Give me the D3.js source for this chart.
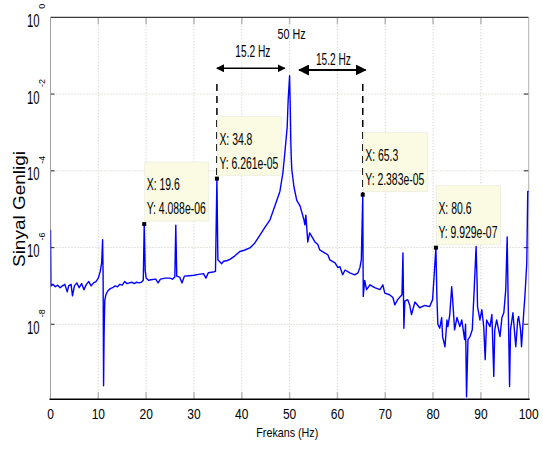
<!DOCTYPE html>
<html>
<head>
<meta charset="utf-8">
<title>Sinyal Genligi - Frekans</title>
<script src="https://d3js.org/d3.v7.min.js"></script>
<style>
body{margin:0;background:#fff;}
text{font-family:"Liberation Sans",Arial,sans-serif;fill:#000;}
</style>
</head>
<body>
<script>
// eksen etiketleri
var xTicks = [0,10,20,30,40,50,60,70,80,90,100];
var yTicks = [1,1e-2,1e-4,1e-6,1e-8];

// spektrum (okunan degerler)
var freq = [
  0,0.1,0.5,1.0,1.5,2.0,2.5,3.0,3.5,3.8,
  4.3,4.6,5.0,5.5,6.0,6.5,7.0,7.5,8.0,8.5,
  9.0,9.5,10.0,10.4,10.7,10.9,11.0,11.1,11.2,11.35,
  11.6,12.0,12.5,13.0,13.5,14.0,14.5,15.0,15.5,16.0,
  16.5,17.0,17.5,18.0,18.5,19.0,19.4,19.6,19.8,20.0,
  20.5,21.0,22.0,22.5,23.0,24.0,25.0,25.5,26.0,26.2,
  26.4,27.0,27.5,28.0,29.0,30.0,31.0,32.0,32.5,33.0,
  34.0,34.5,34.8,35.0,35.3,35.8,36.2,37.0,37.6,38.5,
  39.6,40.5,41.7,42.7,43.8,44.8,45.9,46.9,47.97,48.6,
  49.0,49.5,49.7,50.0,50.15,50.26,50.37,50.47,50.9,51.5,
  52.2,53.0,53.2,53.4,53.8,54.2,55.3,55.9,56.3,57.4,
  58.0,58.4,59.5,60.1,60.5,61.1,61.6,62.6,63.6,64.3,
  64.7,65.0,65.3,65.4,65.7,66.1,66.8,67.8,68.9,69.5,
  69.9,70.9,71.6,72.0,72.6,73.5,73.7,73.9,74.1,74.7,
  75.1,75.5,76.2,77.2,78.3,79.3,79.9,80.3,80.6,80.8,
  81.0,81.4,81.8,82.0,82.5,82.9,83.1,83.5,83.9,84.1,
  84.5,85.0,85.6,86.0,86.6,86.8,87.0,87.3,87.7,88.2,
  88.6,89.0,89.2,89.3,89.8,90.2,90.6,90.9,91.2,91.9,
  92.3,92.7,92.9,93.3,94.0,94.4,94.8,95.2,95.5,95.7,
  96.0,96.2,96.7,97.3,97.7,97.9,98.3,98.5,99.0,99.2,
  99.6,99.8,100
];
var amp = [
  2.9e-6,1.0e-7,1.1e-7,9.5e-8,1.05e-7,9.0e-8,1.0e-7,1.1e-7,7.0e-8,1.0e-7,
  1.1e-7,5.5e-8,1.0e-7,1.2e-7,9.0e-8,1.15e-7,8.0e-8,1.1e-7,1.3e-7,1.0e-7,
  1.2e-7,1.3e-7,1.6e-7,2.4e-7,4.0e-7,1.6e-6,2.0e-7,2.5e-10,5.0e-9,4.2e-8,
  6.0e-8,7.5e-8,8.5e-8,9.0e-8,1.0e-7,9.5e-8,1.1e-7,1.05e-7,1.3e-7,1.15e-7,
  1.2e-7,1.25e-7,1.15e-7,1.25e-7,1.2e-7,1.25e-7,1.4e-7,4.088e-6,2.5e-7,1.6e-7,
  1.4e-7,1.45e-7,1.5e-7,1.2e-7,1.5e-7,1.6e-7,1.6e-7,1.5e-7,1.7e-7,3.8e-6,
  1.8e-7,1.7e-7,1.2e-7,1.8e-7,1.85e-7,1.9e-7,2.0e-7,2.1e-7,1.6e-7,2.2e-7,
  2.3e-7,2.4e-7,6.261e-5,4.8e-7,4.4e-7,3.8e-7,4.4e-7,4.6e-7,5.0e-7,6.0e-7,
  7.9e-7,8.5e-7,9.8e-7,1.3e-6,2.1e-6,3.3e-6,5.3e-6,1.2e-5,2.9e-5,8.9e-5,
  2.9e-4,1.4e-3,7.0e-3,3.0e-2,3.9e-3,5.3e-4,1.9e-4,1.05e-4,3.9e-5,1.7e-5,
  1.2e-5,5.3e-6,3.9e-6,7.0e-6,1.4e-6,2.4e-6,1.4e-6,1.2e-6,8.7e-7,7.2e-7,
  6.5e-7,4.8e-7,4.0e-7,3.0e-7,3.2e-7,1.95e-7,2.6e-7,2.2e-7,1.95e-7,2.2e-7,
  3.0e-7,4.8e-7,2.383e-5,5.3e-8,1.4e-7,8.0e-8,1.07e-7,9.0e-8,8.0e-8,1.07e-7,
  6.5e-8,5.9e-8,5.0e-8,3.2e-8,4.4e-8,5.9e-8,7.2e-7,7.9e-9,4.0e-8,4.4e-8,
  3.2e-8,1.8e-8,3.8e-8,2.7e-8,3.1e-8,2.9e-8,4.4e-8,2.6e-7,9.929e-7,5.2e-8,
  1.0e-8,7.9e-9,1.5e-8,4.7e-9,2.6e-9,1.3e-8,8.7e-9,1.8e-8,9.5e-8,4.4e-8,
  7.2e-9,1.5e-8,8.7e-9,1.3e-8,4.0e-9,1.0e-8,1.3e-10,4.0e-9,4.7e-9,7.2e-9,
  8.0e-8,1.07e-6,1.4e-7,2.9e-8,1.3e-8,2.4e-8,8.7e-9,1.2e-9,1.3e-8,8.7e-9,
  1.8e-8,4.4e-10,7.2e-9,1.3e-8,4.8e-9,1.5e-8,2.0e-8,8.0e-8,1.9e-6,4.4e-8,
  2.4e-10,7.2e-9,2.0e-8,2.6e-9,1.3e-8,1.6e-8,7.2e-9,2.6e-9,2.4e-8,5.2e-8,
  4.0e-7,2.9e-5,2.9e-5
];

// veri imleci (data tip) noktalari
var tipX = [19.6,34.8,65.3,80.6];
var tipY = [4.088e-6,6.261e-5,2.383e-5,9.929e-7];
var tipTextY = ["4.088e-06","6.261e-05","2.383e-05","9.929e-07"];

// 15.2 Hz oklari
var arrowFrom = [34.8,52.0];
var arrowTo = [49.0,65.9];
var arrowLabel = ["15.2 Hz","15.2 Hz"];
var peakLabel = "50 Hz";

var w = 543, h = 459;
var pLeft = 50.5, pRight = 528.7, pTop = 17.3, pBottom = 399.3;

var svg = d3.select("body").append("svg")
    .attr("width", w)
    .attr("height", h);

var x = d3.scaleLinear().domain([0,100]).range([pLeft,pRight]);
var y = d3.scaleLog().domain([Math.pow(10,-9.954),1]).range([pBottom,pTop]);

// izgara
svg.append("g").selectAll("line")
    .data(xTicks.slice(1,-1))
    .join("line")
    .attr("x1",d=>x(d)).attr("x2",d=>x(d))
    .attr("y1",pTop).attr("y2",pBottom)
    .attr("stroke","#c8c8bc")
    .attr("stroke-dasharray","1,2");
svg.append("g").selectAll("line")
    .data(yTicks.slice(1))
    .join("line")
    .attr("x1",pLeft).attr("x2",pRight)
    .attr("y1",d=>y(d)).attr("y2",d=>y(d))
    .attr("stroke","#c8c8bc")
    .attr("stroke-dasharray","1,2");

// kucuk tikler
svg.append("g").selectAll("line")
    .data(xTicks.slice(1,-1))
    .join("line")
    .attr("x1",d=>x(d)).attr("x2",d=>x(d))
    .attr("y1",pBottom-7).attr("y2",pBottom)
    .attr("stroke","#b8b8b8").attr("stroke-width",1.5);
svg.append("g").selectAll("line")
    .data(xTicks.slice(1,-1))
    .join("line")
    .attr("x1",d=>x(d)).attr("x2",d=>x(d))
    .attr("y1",pTop).attr("y2",pTop+7)
    .attr("stroke","#b8b8b8").attr("stroke-width",1.5);
svg.append("g").selectAll("line")
    .data(yTicks.slice(1))
    .join("line")
    .attr("x1",pLeft).attr("x2",pLeft+4)
    .attr("y1",d=>y(d)).attr("y2",d=>y(d))
    .attr("stroke","#444").attr("stroke-width",1.2);
svg.append("g").selectAll("line")
    .data(yTicks.slice(1))
    .join("line")
    .attr("x1",pRight-5).attr("x2",pRight)
    .attr("y1",d=>y(d)).attr("y2",d=>y(d))
    .attr("stroke","#444").attr("stroke-width",1.2);

// cerceve
svg.append("line").attr("x1",pLeft).attr("x2",pRight).attr("y1",pTop).attr("y2",pTop)
    .attr("stroke","#3a3a3a").attr("stroke-width",1.3);
svg.append("line").attr("x1",pLeft).attr("x2",pLeft).attr("y1",pTop).attr("y2",pBottom)
    .attr("stroke","#a0a0a0").attr("stroke-width",1);
svg.append("line").attr("x1",pRight).attr("x2",pRight).attr("y1",pTop).attr("y2",pBottom)
    .attr("stroke","#b0b0b0").attr("stroke-width",1);

// spektrum cizgisi
svg.append("clipPath").attr("id","clip")
    .append("rect").attr("x",pLeft).attr("y",pTop).attr("width",pRight-pLeft+1).attr("height",pBottom-pTop);

var pts = freq.map((f,i)=>[f,amp[i]]);
var line = d3.line().x(d=>x(d[0])).y(d=>y(d[1]));
svg.append("path")
    .datum(pts)
    .attr("clip-path","url(#clip)")
    .attr("fill","none")
    .attr("stroke","#0000ff")
    .attr("stroke-width",1.4)
    .attr("stroke-linejoin","round")
    .attr("d",line);

svg.append("line").attr("x1",pLeft-1).attr("x2",pRight+1).attr("y1",pBottom).attr("y2",pBottom)
    .attr("stroke","#000").attr("stroke-width",1.6);

// x ekseni yazilari
svg.append("g").selectAll("text")
    .data(xTicks)
    .join("text")
    .attr("transform",d=>"translate("+x(d)+",419) scale(0.8,1)")
    .attr("text-anchor","middle")
    .attr("font-size",15)
    .text(d=>d);

// y ekseni yazilari (10 ussu)
var yl = svg.append("g").selectAll("g")
    .data(yTicks)
    .join("g");
yl.append("text")
    .attr("transform",d=>"translate(39.5,"+(y(d)+9.5)+") scale(0.63,1)")
    .attr("text-anchor","end")
    .attr("font-size",18)
    .text("10");
yl.append("text")
    .attr("transform",d=>"translate(45,"+(y(d)-11)+") rotate(-90)")
    .attr("text-anchor","middle")
    .attr("font-size",9)
    .text(d=>Math.round(Math.log10(d)));

svg.append("text")
    .attr("x",287.3).attr("y",437)
    .attr("text-anchor","middle")
    .attr("font-size",13.5)
    .attr("textLength",62).attr("lengthAdjust","spacingAndGlyphs")
    .text("Frekans (Hz)");

svg.append("text")
    .attr("transform","translate(25,209) rotate(-90)")
    .attr("text-anchor","middle")
    .attr("font-size",16.5)
    .attr("textLength",116).attr("lengthAdjust","spacingAndGlyphs")
    .text("Sinyal Genligi");

// kesikli dikey cizgiler
svg.append("g").selectAll("line")
    .data([1,2])
    .join("line")
    .attr("x1",i=>x(tipX[i])).attr("x2",i=>x(tipX[i]))
    .attr("y1",84).attr("y2",i=>y(tipY[i]))
    .attr("stroke","#000").attr("stroke-width",1.5)
    .attr("stroke-dasharray","7,5");

// veri imleci kutulari
var tips = svg.append("g").selectAll("g")
    .data(tipX.map((v,i)=>i))
    .join("g")
    .attr("transform",i=>"translate("+(x(tipX[i])+0.5)+","+(y(tipY[i])-62)+")");
tips.append("rect")
    .attr("width",64).attr("height",59)
    .attr("fill","#fbfbe4")
    .attr("stroke","#ecece0").attr("stroke-width",0.8);
tips.append("text")
    .attr("x",2).attr("y",28)
    .attr("font-size",16)
    .attr("textLength",33).attr("lengthAdjust","spacingAndGlyphs")
    .text(i=>"X: "+tipX[i]);
tips.append("text")
    .attr("x",2).attr("y",52)
    .attr("font-size",16)
    .attr("textLength",59).attr("lengthAdjust","spacingAndGlyphs")
    .text(i=>"Y: "+tipTextY[i]);
svg.append("g").selectAll("rect")
    .data(tipX.map((v,i)=>i))
    .join("rect")
    .attr("x",i=>x(tipX[i])-2).attr("y",i=>y(tipY[i])-2)
    .attr("width",4).attr("height",4)
    .attr("fill","#000");

// oklar
var defs = svg.append("defs");
defs.append("marker").attr("id","ah")
    .attr("viewBox","0 0 10 10").attr("refX",9).attr("refY",5)
    .attr("markerWidth",5).attr("markerHeight",5)
    .attr("orient","auto-start-reverse")
    .append("path").attr("d","M0,0L10,5L0,10z").attr("fill","#000");

var arrowY = [68.3,70];
var arrowW = [1.6,2.2];
var labelY = [56.7,65];
svg.append("g").selectAll("line")
    .data([0,1])
    .join("line")
    .attr("x1",i=>x(arrowFrom[i])).attr("x2",i=>x(arrowTo[i]))
    .attr("y1",i=>arrowY[i]).attr("y2",i=>arrowY[i])
    .attr("stroke","#000").attr("stroke-width",i=>arrowW[i])
    .attr("marker-start","url(#ah)").attr("marker-end","url(#ah)");
svg.append("g").selectAll("text")
    .data([0,1])
    .join("text")
    .attr("x",i=>(x(arrowFrom[i])+x(arrowTo[i]))/2 + (i?1:2))
    .attr("y",i=>labelY[i])
    .attr("text-anchor","middle")
    .attr("font-size",17)
    .attr("textLength",35).attr("lengthAdjust","spacingAndGlyphs")
    .text(i=>arrowLabel[i]);
svg.append("text")
    .attr("x",x(50)+2).attr("y",39)
    .attr("text-anchor","middle")
    .attr("font-size",15)
    .attr("textLength",28).attr("lengthAdjust","spacingAndGlyphs")
    .text(peakLabel);
</script>
</body>
</html>
